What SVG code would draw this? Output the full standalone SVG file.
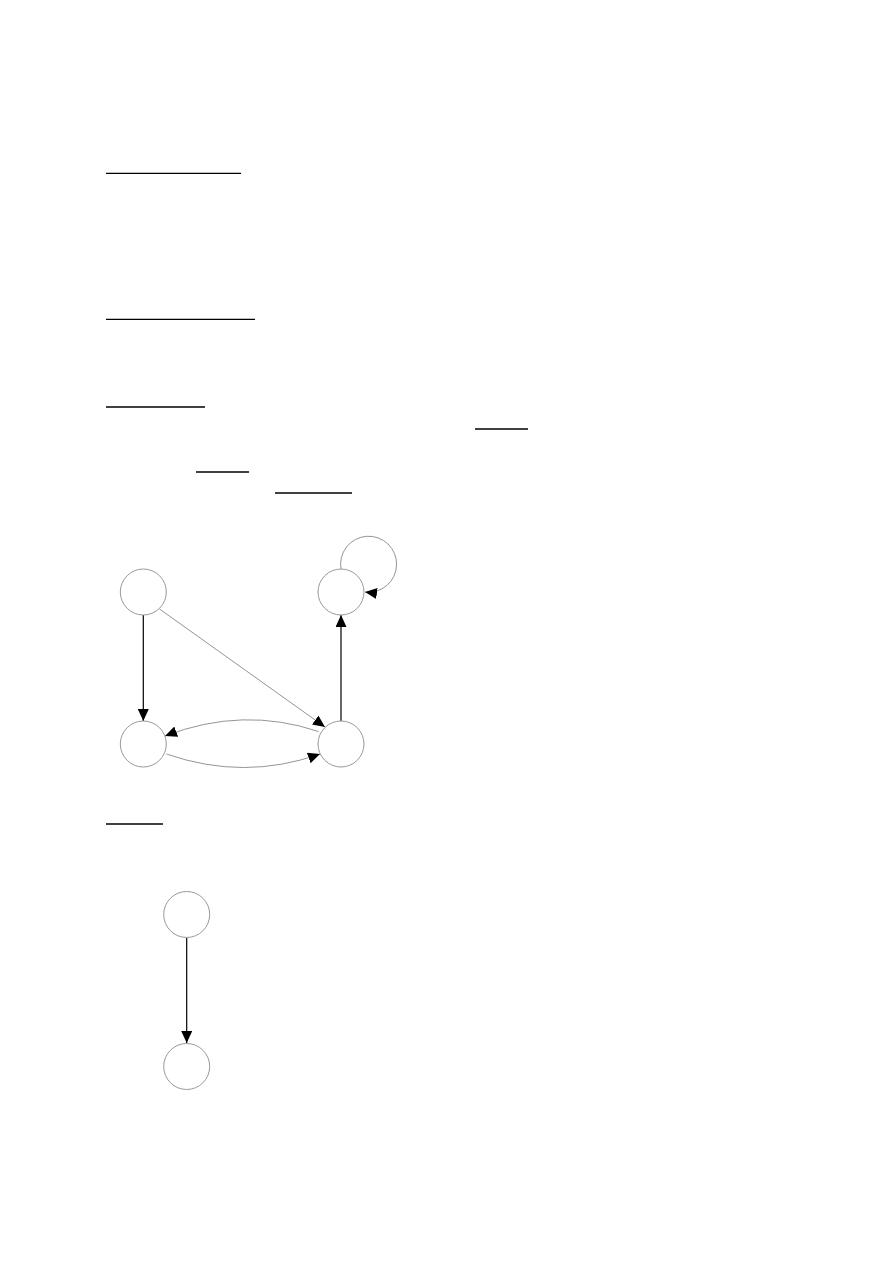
<svg xmlns="http://www.w3.org/2000/svg" width="893" height="1263" viewBox="0 0 893 1263">
<style>
.ul{stroke:#000;stroke-width:1.3;fill:none}
.node{fill:#fff;stroke:#999;stroke-width:1}
.edge{fill:none}
.dark{stroke:#000;stroke-width:1.2}
.light{stroke:#888;stroke-width:0.9}
</style>
<defs>
<marker id="ah" viewBox="0 0 12 11" refX="12" refY="5.5" markerWidth="12" markerHeight="11" markerUnits="userSpaceOnUse" orient="auto">
<path d="M0,0 L12,5.5 L0,11 z" fill="#000"/>
</marker>
</defs>
<rect width="893" height="1263" fill="#fff"/>
<g id="underlines">
<line class="ul" x1="106" y1="173.3" x2="241" y2="173.3"/>
<line class="ul" x1="106" y1="319.3" x2="255" y2="319.3"/>
<line class="ul" x1="106" y1="407" x2="205" y2="407"/>
<line class="ul" x1="475" y1="429" x2="528" y2="429"/>
<line class="ul" x1="196" y1="472" x2="249" y2="472"/>
<line class="ul" x1="275" y1="493" x2="352" y2="493"/>
<line class="ul" x1="106" y1="824" x2="163" y2="824"/>
</g>
<g id="connectors">
<line class="edge dark" x1="143.3" y1="615" x2="143.3" y2="721" marker-end="url(#ah)"/>
<line class="edge light" x1="159.5" y1="609" x2="325" y2="727" marker-end="url(#ah)"/>
<line class="edge dark" x1="341" y1="721" x2="341" y2="615" marker-end="url(#ah)"/>
<path class="edge light" d="M318.5,731.5 Q243,706 165,736" marker-end="url(#ah)"/>
<path class="edge light" d="M166.5,754 Q244,781 320,754" marker-end="url(#ah)"/>
<path class="edge light" d="M341,569 A28,28 0 1 1 365,592" marker-end="url(#ah)"/>
<line class="edge dark" x1="186.7" y1="938" x2="186.7" y2="1043" marker-end="url(#ah)"/>
</g>
<g id="nodeA"><circle class="node" cx="143.3" cy="592" r="23"/></g>
<g id="nodeB"><circle class="node" cx="341" cy="592" r="23"/></g>
<g id="nodeC"><circle class="node" cx="143.3" cy="744" r="23"/></g>
<g id="nodeD"><circle class="node" cx="341" cy="744" r="23"/></g>
<g id="nodeE"><circle class="node" cx="186.7" cy="914.5" r="23"/></g>
<g id="nodeF"><circle class="node" cx="186.7" cy="1066.5" r="23"/></g>
</svg>
